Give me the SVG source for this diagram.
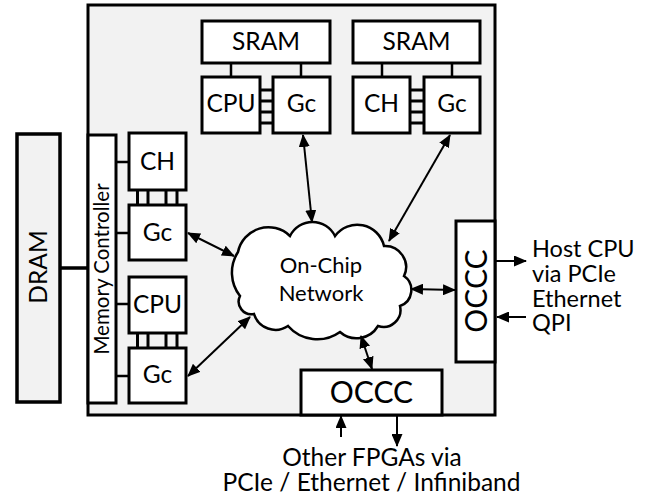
<svg xmlns="http://www.w3.org/2000/svg" width="650" height="497" viewBox="0 0 650 497">
  <defs>
    <marker id="ah" viewBox="0 0 13 11" refX="12" refY="5.5" markerWidth="13" markerHeight="11" markerUnits="userSpaceOnUse" orient="auto-start-reverse">
      <path d="M0,0 L13,5.5 L0,11 Z" fill="#000"/>
    </marker>
    <style>
      .box { fill: #fff; stroke: #000; stroke-width: 3; }
      .wire { stroke: #000; stroke-width: 2.5; fill: none; }
      .rung { stroke: #000; stroke-width: 3; fill: none; }
      .arrow { stroke: #000; stroke-width: 2; fill: none; marker-start: url(#ah); marker-end: url(#ah); }
      .arrow1 { stroke: #000; stroke-width: 2; fill: none; marker-end: url(#ah); }
      text { font-family: Lato, "Liberation Sans", sans-serif; fill: #000; }
      .lbl { font-size: 24.5px; text-anchor: middle; }
      .big { font-size: 30px; text-anchor: middle; }
      .side { font-size: 23.5px; }
    </style>
  </defs>

  <!-- FPGA chip -->
  <g id="chip">
    <rect x="88" y="5" width="407" height="410" fill="#f2f2f2" stroke="#000" stroke-width="3"/>
  </g>

  <!-- external DRAM -->
  <g id="dram">
    <rect x="17" y="134" width="43" height="268" fill="#f2f2f2" stroke="#000" stroke-width="3.5"/>
    <text class="lbl" transform="translate(47,267) rotate(-90)">DRAM</text>
  </g>

  <g id="memory-controller">
    <rect class="box" x="88" y="135" width="28" height="268"/>
    <text transform="translate(109,269) rotate(-90)" font-size="20.5" text-anchor="middle">Memory Controller</text>
  </g>

  <!-- top tiles -->
  <g id="sram-1">
    <rect class="box" x="202" y="21" width="128" height="42"/>
    <text class="lbl" x="266" y="50">SRAM</text>
  </g>
  <g id="cpu-top">
    <rect class="box" x="202" y="77" width="58" height="56"/>
    <text class="lbl" x="231" y="112">CPU</text>
  </g>
  <g id="gc-top-1">
    <rect class="box" x="273" y="77" width="57" height="56"/>
    <text class="lbl" x="301.5" y="112">Gc</text>
  </g>
  <g id="sram-2">
    <rect class="box" x="353" y="21" width="127" height="42"/>
    <text class="lbl" x="416.5" y="50">SRAM</text>
  </g>
  <g id="ch-top">
    <rect class="box" x="353" y="77" width="57" height="56"/>
    <text class="lbl" x="381.5" y="112">CH</text>
  </g>
  <g id="gc-top-2">
    <rect class="box" x="424" y="77" width="56" height="56"/>
    <text class="lbl" x="452" y="112">Gc</text>
  </g>

  <!-- left tiles -->
  <g id="ch-left">
    <rect class="box" x="129" y="133" width="57" height="57"/>
    <text class="lbl" x="157.5" y="170">CH</text>
  </g>
  <g id="gc-left-1">
    <rect class="box" x="129" y="205" width="57" height="55"/>
    <text class="lbl" x="157.5" y="241">Gc</text>
  </g>
  <g id="cpu-left">
    <rect class="box" x="129" y="277" width="57" height="56"/>
    <text class="lbl" x="157.5" y="313">CPU</text>
  </g>
  <g id="gc-left-2">
    <rect class="box" x="129" y="348" width="57" height="55"/>
    <text class="lbl" x="157.5" y="383">Gc</text>
  </g>

  <!-- interconnect -->
  <g id="network">
    <path d="M240,296 A38,38 0 0 1 238,252 A31,31 0 0 1 290,236 A25,25 0 0 1 335,236 A27.5,27.5 0 0 1 384,246 A21,21 0 0 1 404,276 A17,17 0 0 1 400,306 A17,17 0 0 1 378,326 A25,25 0 0 1 340,332 A39,39 0 0 1 288,326 A22.5,22.5 0 0 1 254,314 A12.7,12.7 0 0 1 240,296 Z" fill="#fff" stroke="#000" stroke-width="2.5"/>
    <text x="321" y="273" font-size="22" text-anchor="middle">On-Chip</text>
    <text x="321" y="301" font-size="22" text-anchor="middle">Network</text>
  </g>

  <g id="occc-right">
    <rect class="box" x="456" y="221" width="39" height="141"/>
    <text class="big" transform="translate(487,291) rotate(-90)">OCCC</text>
  </g>
  <g id="occc-bottom">
    <rect class="box" x="301" y="370" width="141" height="45"/>
    <text class="big" x="371.5" y="403">OCCC</text>
  </g>

  <!-- wires, buses and arrows -->
  <g id="connectors">
    <line x1="60" y1="268" x2="88" y2="268" stroke="#000" stroke-width="3.5"/>
    <path class="wire" d="M116,162 H129 M116,233 H129 M116,304 H129 M116,376 H129"/>
    <path class="rung" d="M137.5,190 V205 M148,190 V205 M166,190 V205 M177,190 V205"/>
    <path class="rung" d="M137.5,333 V348 M148,333 V348 M166,333 V348 M177,333 V348"/>
    <path class="wire" d="M231,63 V77 M301,63 V77 M382,63 V77 M452,63 V77"/>
    <path class="rung" d="M260,90 H273 M260,101 H273 M260,112 H273 M260,123 H273"/>
    <path class="rung" d="M410,90 H424 M410,101 H424 M410,112 H424 M410,123 H424"/>

    <line class="arrow" x1="303" y1="135" x2="312" y2="222"/>
    <line class="arrow" x1="450" y1="135" x2="389" y2="241"/>
    <line class="arrow" x1="188" y1="233" x2="234" y2="256"/>
    <line class="arrow" x1="188" y1="376" x2="250" y2="317"/>
    <line class="arrow" x1="411" y1="289" x2="455" y2="290"/>
    <line class="arrow" x1="361" y1="336" x2="372" y2="369"/>

    <line class="arrow1" x1="495" y1="261" x2="526" y2="261"/>
    <line class="arrow1" x1="526" y1="317" x2="497" y2="317"/>
    <line class="arrow1" x1="341" y1="437" x2="341" y2="416"/>
    <line class="arrow1" x1="397" y1="416" x2="397" y2="446"/>
  </g>

  <!-- external links -->
  <g id="host-label">
    <text class="side" x="532" y="257">Host CPU</text>
    <text class="side" x="532" y="282">via PCIe</text>
    <text class="side" x="532" y="307">Ethernet</text>
    <text class="side" x="532" y="331">QPI</text>
  </g>
  <g id="fpga-label">
    <text class="lbl" x="372" y="466">Other FPGAs via</text>
    <text class="lbl" x="371.5" y="491">PCIe / Ethernet / Infiniband</text>
  </g>
</svg>
